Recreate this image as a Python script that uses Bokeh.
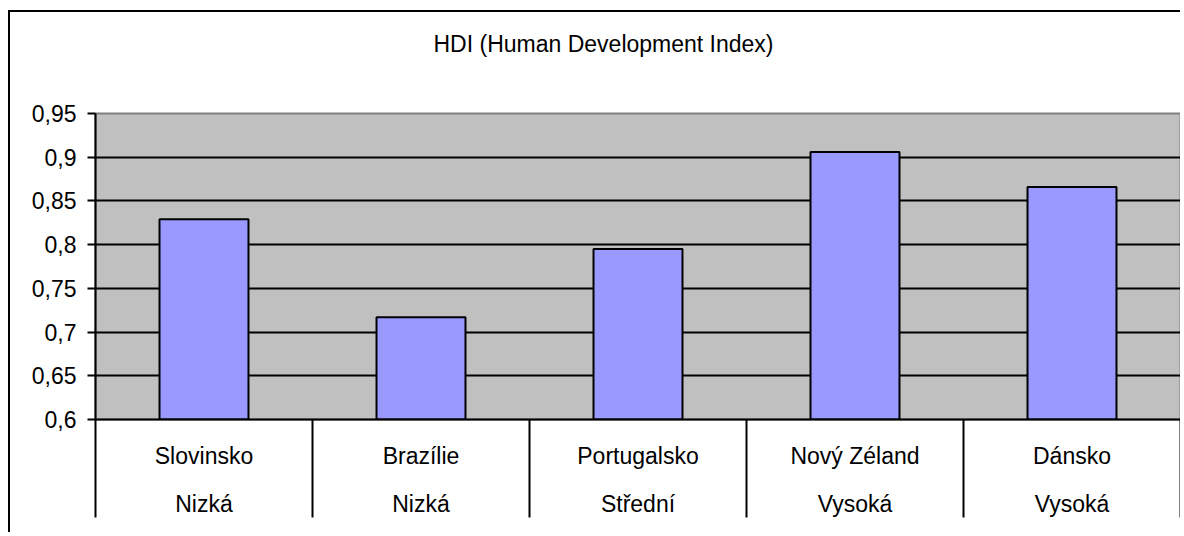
from bokeh.plotting import figure
from bokeh.models import FixedTicker, LinearAxis, Range1d
from bokeh.embed import file_html
from bokeh.resources import INLINE

# ---- data ----
countries = ["Slovinsko", "Brazílie", "Portugalsko", "Nový Zéland", "Dánsko"]
levels = ["Nizká", "Nizká", "Střední", "Vysoká", "Vysoká"]
hdi = [0.829, 0.717, 0.795, 0.906, 0.866]
y_ticks = [0.6, 0.65, 0.7, 0.75, 0.8, 0.85, 0.9, 0.95]
y_tick_labels = ["0,6", "0,65", "0,7", "0,75", "0,8", "0,85", "0,9", "0,95"]
title_text = "HDI (Human Development Index)"

FONT = "Liberation Sans"
FS = "23px"

n = len(countries)
centers = [i + 0.5 for i in range(n)]
bounds = [float(i) for i in range(n + 1)]

p = figure(width=1172, height=522,
           x_range=Range1d(0, n), y_range=Range1d(y_ticks[0], y_ticks[-1]),
           output_backend="svg", toolbar_location=None,
           min_border_left=85, min_border_top=101,
           min_border_right=2, min_border_bottom=115)

p.styles = {"border-left": "2px solid black", "border-top": "2px solid black",
            "margin-left": "8px", "margin-top": "10px"}

p.background_fill_color = "#C0C0C0"
p.border_fill_color = "white"
p.outline_line_color = "#808080"
p.outline_line_width = 2

xax = p.below[0]
yax = p.left[0]

# invisible spacer between frame and title (one hidden tick gives it height)
spacer = LinearAxis(ticker=FixedTicker(ticks=[n / 2], minor_ticks=[]),
                    major_label_overrides={n / 2: ""})
spacer.axis_line_color = None
spacer.major_tick_line_color = None
spacer.minor_tick_line_color = None
spacer.major_label_text_color = None
spacer.major_label_text_font_size = "1px"
spacer.major_tick_out = 57
spacer.major_tick_in = 0
spacer.minor_tick_out = 0
spacer.minor_tick_in = 0
spacer.major_label_standoff = 0
p.add_layout(spacer, "above")

# title
p.title.text = title_text
p.title.align = "left"
p.title.vertical_align = "bottom"
p.title.text_font = FONT
p.title.text_font_size = FS
p.title.text_font_style = "normal"
p.title.text_color = "black"
p.title.standoff = 0
p.title.offset = 338

# bars
p.vbar(x=centers, top=hdi, bottom=y_ticks[0], width=0.41,
       fill_color="#9999FF", line_color="black", line_width=2)

# y axis
yax.ticker = FixedTicker(ticks=y_ticks, minor_ticks=[])
yax.major_label_overrides = dict(zip(y_ticks, y_tick_labels))
yax.major_tick_out = 8
yax.major_tick_in = 0
yax.minor_tick_out = 0
yax.minor_tick_in = 0
yax.axis_line_width = 2
yax.axis_line_color = "black"
yax.major_tick_line_width = 2
yax.major_tick_line_color = "black"
yax.major_label_standoff = 11
yax.major_label_text_font = FONT
yax.major_label_text_font_size = FS
yax.major_label_text_color = "black"

# x axis (country row, with category separators as minor ticks)
xax.ticker = FixedTicker(ticks=centers, minor_ticks=bounds)
xax.major_label_overrides = dict(zip(centers, countries))
xax.major_tick_out = 0
xax.major_tick_in = 0
xax.minor_tick_out = 98
xax.minor_tick_in = 0
xax.minor_tick_line_width = 2
xax.minor_tick_line_color = "black"
xax.axis_line_width = 2
xax.axis_line_color = "black"
xax.major_label_standoff = -75
xax.major_label_text_font = FONT
xax.major_label_text_font_size = FS
xax.major_label_text_color = "black"

# second row of category labels
ax2 = LinearAxis(ticker=FixedTicker(ticks=centers, minor_ticks=[]),
                 major_label_overrides=dict(zip(centers, levels)))
ax2.axis_line_color = None
ax2.major_tick_line_color = None
ax2.minor_tick_line_color = None
ax2.major_label_standoff = 13
ax2.major_label_text_font = FONT
ax2.major_label_text_font_size = FS
ax2.major_label_text_color = "black"
p.add_layout(ax2, "below")

# grid
p.xgrid.visible = False
p.ygrid.ticker = FixedTicker(ticks=y_ticks, minor_ticks=[])
p.ygrid.grid_line_color = "black"
p.ygrid.grid_line_width = 2

open("out.html", "w").write(file_html(p, INLINE))
